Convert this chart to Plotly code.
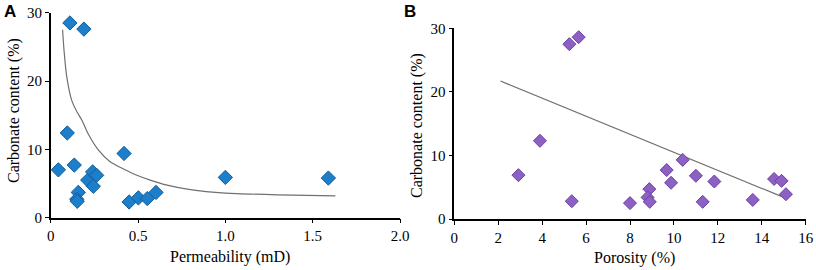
import plotly.graph_objects as go

# Panel A: permeability vs carbonate
perm_a = [0.11, 0.19, 0.095, 0.044, 0.135, 0.158, 0.149, 0.152, 0.212, 0.24, 0.263, 0.244,
          0.42, 0.449, 0.502, 0.553, 0.603, 1.0, 1.59]
carb_a = [28.5, 27.6, 12.4, 7.0, 7.7, 3.7, 2.7, 2.4, 5.5, 6.7, 6.2, 4.6,
          9.4, 2.3, 2.9, 2.8, 3.7, 5.9, 5.8]
# Panel A trend curve
trend_a_x = [0.068, 0.076, 0.092, 0.12, 0.15, 0.18, 0.216, 0.27, 0.34, 0.42, 0.49, 0.57,
             0.66, 0.8, 1.0, 1.3, 1.63]
trend_a_y = [27.5, 24.6, 20.6, 17.2, 15.5, 14.2, 12.2, 10.0, 8.2, 7.1, 6.25, 5.5,
             4.8, 4.1, 3.6, 3.35, 3.2]

# Panel B: porosity vs carbonate
por_b = [5.24, 5.66, 3.9, 2.92, 5.35, 8.0, 8.88, 8.8, 8.9, 9.67, 9.87, 10.4,
         11.0, 11.31, 11.84, 13.59, 14.56, 14.9, 15.1]
carb_b = [27.5, 28.6, 12.3, 6.9, 2.8, 2.5, 4.7, 3.4, 2.7, 7.7, 5.7, 9.3,
          6.8, 2.7, 5.9, 3.0, 6.3, 6.0, 3.9]
trend_b_x = [2.1, 15.0]
trend_b_y = [21.7, 3.4]

xa_tickvals = [0, 0.5, 1.0, 1.5, 2.0]
xa_ticktext = ["0", "0.5", "1.0", "1.5", "2.0"]
xb_tickvals = [0, 2, 4, 6, 8, 10, 12, 14, 16]
y_tickvals = [0, 10, 20, 30]

SERIF = "Liberation Serif"
W, H = 816, 270

fig = go.Figure()
fig.add_trace(go.Scatter(x=trend_a_x, y=trend_a_y, mode="lines",
                         line=dict(color="#707070", width=1.2, shape="spline", smoothing=0.6),
                         xaxis="x", yaxis="y", hoverinfo="skip"))
fig.add_trace(go.Scatter(x=perm_a, y=carb_a, mode="markers",
                         marker=dict(symbol="diamond", size=11, color="#1d7fca",
                                     line=dict(color="#0f5d9e", width=1)),
                         xaxis="x", yaxis="y"))
fig.add_trace(go.Scatter(x=trend_b_x, y=trend_b_y, mode="lines",
                         line=dict(color="#707070", width=1.2),
                         xaxis="x2", yaxis="y2", hoverinfo="skip"))
fig.add_trace(go.Scatter(x=por_b, y=carb_b, mode="markers",
                         marker=dict(symbol="diamond", size=10, color="#8d60c4",
                                     line=dict(color="#6a40a3", width=1)),
                         xaxis="x2", yaxis="y2"))

axis_common = dict(showgrid=False, zeroline=False, showline=True, linecolor="black",
                   linewidth=1.5, ticks="outside", ticklen=4, tickcolor="black",
                   automargin=False,
                   tickfont=dict(family=SERIF, size=15, color="black"))
title_font = dict(family=SERIF, size=16, color="black")


def px(x):
    return x / W


def py(y):
    return 1 - y / H


annotations = [
    dict(text="<b>A</b>", x=px(9.5), y=py(12), xanchor="center", yanchor="middle",
         font=dict(family="Liberation Sans", size=17, color="black")),
    dict(text="<b>B</b>", x=px(410), y=py(11), xanchor="center", yanchor="middle",
         font=dict(family="Liberation Sans", size=17, color="black")),
    dict(text="Permeability (mD)", x=px(229.5), y=py(257), xanchor="center", yanchor="middle",
         font=title_font),
    dict(text="Porosity (%)", x=px(634.5), y=py(258), xanchor="center", yanchor="middle",
         font=title_font),
    dict(text="Carbonate content (%)", x=px(14), y=py(111), xanchor="center", yanchor="middle",
         textangle=-90, font=title_font),
    dict(text="Carbonate content (%)", x=px(417), y=py(125), xanchor="center", yanchor="middle",
         textangle=-90, font=title_font),
]
for a in annotations:
    a.update(xref="paper", yref="paper", showarrow=False)

fig.update_layout(
    width=W, height=H,
    margin=dict(l=0, r=0, t=0, b=0),
    paper_bgcolor="white", plot_bgcolor="white",
    showlegend=False,
    font=dict(family=SERIF),
    xaxis=dict(domain=[px(50.7), px(400)], range=[0, 2.0], tickvals=xa_tickvals, ticktext=xa_ticktext,
               anchor="y", **axis_common),
    yaxis=dict(domain=[py(217.7), py(12.7)], range=[0, 30], tickvals=y_tickvals,
               anchor="x", **axis_common),
    xaxis2=dict(domain=[px(454.3), px(805.7)], range=[0, 16], tickvals=xb_tickvals,
                anchor="y2", **axis_common),
    yaxis2=dict(domain=[py(219), py(28.3)], range=[0, 30], tickvals=y_tickvals,
                anchor="x2", **axis_common),
    annotations=annotations,
)

fig.write_html("out.html", config={"displayModeBar": False},
               post_script="document.body.style.margin='0px';document.body.style.padding='0px';")
